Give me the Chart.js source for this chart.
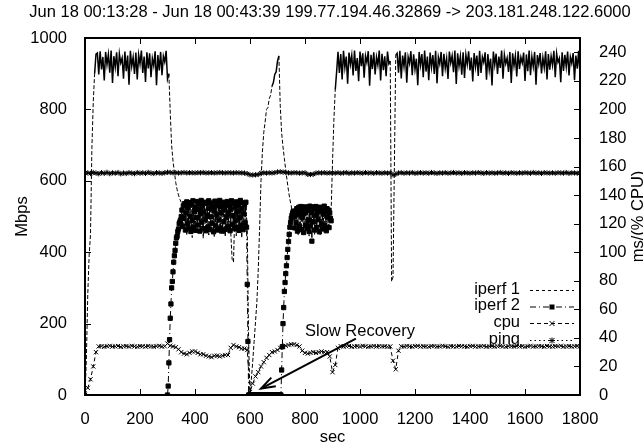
<!DOCTYPE html>
<html><head><meta charset="utf-8">
<script src="https://cdn.jsdelivr.net/npm/chart.js@4/dist/chart.umd.min.js"></script>
<style>html,body{margin:0;padding:0;background:#fff;overflow:hidden}canvas{display:block}</style>
</head><body>
<canvas id="c" width="643" height="448"></canvas>
<script>
// ---------- text ----------
const TITLE = 'Jun 18 00:13:28 - Jun 18 00:43:39 199.77.194.46.32869 -> 203.181.248.122.6000';
const X_LABEL = 'sec';
const Y_LABEL = 'Mbps';
const Y2_LABEL = 'ms/(% CPU)';
const SERIES_NAMES = ['iperf 1', 'iperf 2', 'cpu', 'ping'];
const ANNOTATION_TEXT = 'Slow Recovery';
const ANNOTATION_AT = [800, 165];      // sec, Mbps
const ARROW_FROM = [985, 158];         // sec, Mbps
const ARROW_TO = [640, 18];            // sec, Mbps

// ---------- ticks ----------
const X_TICKS = [0, 200, 400, 600, 800, 1000, 1200, 1400, 1600, 1800];
const Y_TICKS = [0, 200, 400, 600, 800, 1000];
const Y2_TICKS = [0, 20, 40, 60, 80, 100, 120, 140, 160, 180, 200, 220, 240];

// ---------- sampling ----------
const IPERF1_STEP = 5;     // seconds between iperf 1 samples
const IPERF1_START = 0;
const IPERF2_STEP = 2.5;   // seconds between iperf 2 samples
const IPERF2_START = 300;
const CPU_STEP = 10;
const PING_STEP = 10;

// ---------- iperf 1 (Mbps), t = 0..1800 every 5 s ----------
const iperf1 = [
  // 0-40
  0,100,280,390,450,690,820,900,955,
  // 45-305
  958,898,963,912,947,881,961,925,954,903,
  965,874,949,918,960,893,956,930,944,886,
  962,907,951,869,964,921,946,899,959,884,
  953,927,965,902,948,877,960,915,957,890,
  943,922,963,868,952,909,961,896,949,933,
  964,885,900,
  // 310-350
  790,700,655,625,595,575,560,548,540,
  // 355-585
  525,468,532,447,538,459,521,441,536,472,
  529,452,540,463,518,439,535,470,527,448,
  541,458,523,444,537,466,530,450,539,461,
  520,443,534,469,528,455,380,372,520,446,
  536,462,525,440,538,457,531,
  // 590-600
  470,150,0,
  // 605-705
  45,95,150,205,260,350,470,600,680,735,765,800,805,830,840,865,875,898,905,935,950,
  // 710-750
  810,735,695,662,630,600,572,548,530,
  // 755-890
  495,520,462,526,448,529,470,524,452,528,
  466,521,445,527,473,525,450,529,462,522,
  447,526,469,520,455,524,463,515,
  // 895-915
  514,650,770,855,905,
  // 920-1105
  961,902,955,884,964,917,948,872,959,926,
  952,895,965,908,944,879,962,921,957,889,
  950,931,963,866,953,913,960,898,946,924,
  965,881,956,910,949,893,962,928,
  // 1110-1130
  935,318,330,640,952,
  // 1135-1800
  957,903,964,887,951,920,960,875,947,929,
  963,896,954,912,942,868,961,924,955,890,
  965,906,948,882,959,918,952,899,964,873,
  946,927,961,893,956,915,943,885,962,930,
  950,904,965,871,957,921,949,897,960,888,
  953,926,963,909,945,878,958,919,951,894,
  964,902,947,932,960,883,955,911,942,867,
  962,925,956,899,948,916,965,886,953,928,
  944,905,961,874,957,922,950,892,963,913,
  946,930,959,880,954,907,965,896,948,920,
  961,869,952,927,958,901,945,917,963,884,
  955,911,949,924,964,890,957,932,943,876,
  960,908,953,919,962,895,
  947,929,958,882,951,914,964,898
];

// ---------- iperf 2 (Mbps), t = 300..895 every 2.5 s ----------
const iperf2 = [
  // 300-350
  0,25,90,155,215,255,300,318,345,372,390,405,425,440,445,458,465,480,485,490,500,
  // 352.5-587.5
  518,472,530,495,536,462,510,541,480,525,
  467,539,501,458,533,488,544,470,515,527,
  461,497,542,476,520,535,459,508,545,484,
  529,466,513,540,492,460,537,503,471,544,
  523,463,499,538,481,528,457,517,543,474,
  506,536,462,531,490,545,468,511,527,459,
  540,485,521,464,534,498,542,472,509,530,
  460,519,544,478,503,537,466,526,489,541,
  469,514,532,461,496,545,475,522,538,463,
  507,533,482,540,470,
  // 590-595
  310,150,0,
  // 597.5-712.5
  0,0,0,0,0,0,0,0,0,0,0,0,0,0,0,0,0,0,0,0,0,0,0,0,
  0,0,0,0,0,0,0,0,0,0,0,0,0,0,0,0,0,0,0,0,0,0,0,
  // 715-757.5
  70,135,200,245,290,315,340,362,385,408,430,450,470,483,495,503,510,515,
  // 760-895
  500,468,515,482,522,459,505,526,471,512,
  528,463,497,520,455,509,527,476,516,466,
  524,490,458,529,473,511,431,519,485,527,
  462,504,528,470,517,492,525,457,513,526,
  479,521,465,508,529,474,515,460,522,498,
  518,469,510,495,488
];

// ---------- cpu (%), t = 0..1800 every 10 s ----------
const cpu = [
  // 0-50
  0,5,11,20,30,34,
  // 60-290
  34.2,33.8,34.1,34.4,33.9,34,34.3,33.7,34.1,34.2,33.9,34.4,34,33.8,34.2,34.1,33.9,34.3,34,33.8,34.2,34.4,33.9,34.1,
  // 300-590
  36,34.5,34,33.5,32,30,29,28.5,29.5,30.5,30.5,29.5,28.5,28.5,27.5,27,26.5,27.5,27.5,27,27.5,28,28,33,35,34,33.5,32.5,32.5,31.5,
  // 600-720
  2,8,13,16,20,23,26,28,30,30.5,31.5,33,34,
  // 730-910
  34.5,35,35.5,35.5,35,34,31,29.5,29,29.5,30,29.5,30,30.5,30,30,27,16,21,
  // 920-1110
  33,34.2,33.9,34.1,34.3,33.8,34,34.2,33.9,34.4,34.1,33.8,34,34.3,33.9,34.2,34,34.1,33.8,34,
  // 1120-1140
  24,18,31,
  // 1150-1800
  34.1,33.9,34.3,34,33.8,34.2,34.4,33.9,34.1,34,
  33.8,34.3,34.2,33.9,34,34.4,34.1,33.8,34.2,34,
  33.9,34.3,34.1,34,33.8,34.2,34.4,33.9,34,34.1,
  34.3,33.8,34,34.2,33.9,34.1,34.4,34,33.8,34.2,
  34.1,33.9,34.3,34,34.2,33.8,34.1,34.4,33.9,34,
  34.2,34.1,33.8,34.3,34,33.9,34.2,34.1,34.4,33.8,
  34,34.2,33.9,34.1,34.3,34
];

// ---------- ping (ms), t = 0..1800 every 10 s ----------
const ping = [
  // 0-290
  155.3,155.6,155.1,155.8,155.4,154.9,155.7,155.2,155.9,155.0,
  155.6,155.3,155.8,154.9,155.5,155.1,155.7,155.4,155.0,155.8,
  155.3,155.6,155.2,155.9,155.4,155.1,155.7,155.5,155.2,155.6,
  // 300-590
  156,155.8,155.6,155.7,155.5,155.6,155.8,155.5,155.7,155.6,
  155.5,155.7,155.6,155.8,155.5,155.6,155.7,155.5,155.6,155.8,
  155.6,155.5,155.7,155.6,155.5,155.7,155.6,155.5,155.4,155.0,
  // 600-700
  154.2,154.1,154.2,154.4,155.5,155.6,155.4,155.6,155.5,155.7,156.2,
  // 710-890
  156.3,156.1,155.8,155.6,155.5,155.7,155.6,155.4,155.5,155.6,154.5,154.4,154.6,155.4,155.6,155.5,155.7,155.4,155.6,
  // 900-1800
  155.6,155.4,155.7,155.3,155.5,155.8,155.2,155.6,155.4,155.7,
  155.5,155.3,155.8,155.4,155.6,155.2,155.7,155.5,155.3,155.6,
  155.4,155.5,154.2,154.6,155.5,155.7,155.3,155.6,155.4,155.8,
  155.2,155.5,155.7,155.4,155.6,155.3,155.8,155.5,155.2,155.6,
  155.4,155.7,155.3,155.5,155.8,155.4,155.6,155.2,155.7,155.5,
  155.3,155.6,155.4,155.8,155.5,155.2,155.7,155.4,155.6,155.3,
  155.5,155.8,155.4,155.6,155.2,155.7,155.5,155.3,155.6,155.4,
  155.7,155.5,155.3,155.8,155.4,155.6,155.2,155.7,155.5,155.4,
  155.6,155.3,155.7,155.5,155.4,155.8,155.2,155.6,155.5,155.3,
  155.6
];

// ---------- styles ----------
const FONT_FAMILY = '"Liberation Sans", Arial, Helvetica, sans-serif';
const FONT_SIZE = 16.5;
const INK = '#000';
const DASH = { iperf1: [4, 2], iperf2: [6, 3, 1, 3], cpu: [4, 3], ping: [1.5, 3] };
const LEGEND_DASH = { iperf1: [3, 3], iperf2: [6, 3, 1, 3], cpu: [4, 3], ping: [1.5, 3] };
const DENSE_ABOVE = 850;   // zig-zag segments drawn solid when both ends are above this (Mbps)
const isDense = c => c.p0.parsed.y > DENSE_ABOVE && c.p1.parsed.y > DENSE_ABOVE;

const toPts = (arr, start, step) => arr.map((v, i) => ({ x: start + i * step, y: v }));

const frameAndText = {
  id: 'frameAndText',
  afterDatasetsDraw(chart) {
    const ctx = chart.ctx, ca = chart.chartArea;
    const xs = chart.scales.x, ys = chart.scales.y, y2 = chart.scales.y2;
    ctx.save();
    ctx.strokeStyle = INK; ctx.fillStyle = INK;
    // annotation arrow
    const ax1 = xs.getPixelForValue(ARROW_FROM[0]), ay1 = ys.getPixelForValue(ARROW_FROM[1]);
    const ax2 = xs.getPixelForValue(ARROW_TO[0]), ay2 = ys.getPixelForValue(ARROW_TO[1]);
    ctx.lineWidth = 2; ctx.setLineDash([]);
    ctx.beginPath(); ctx.moveTo(ax1, ay1); ctx.lineTo(ax2, ay2); ctx.stroke();
    const ang = Math.atan2(ay1 - ay2, ax1 - ax2), hl = 15, ha = 0.33;
    ctx.beginPath();
    ctx.moveTo(ax2 + hl * Math.cos(ang + ha), ay2 + hl * Math.sin(ang + ha));
    ctx.lineTo(ax2, ay2);
    ctx.lineTo(ax2 + hl * Math.cos(ang - ha), ay2 + hl * Math.sin(ang - ha));
    ctx.stroke();
    ctx.font = FONT_SIZE + 'px ' + FONT_FAMILY;
    ctx.textAlign = 'left'; ctx.textBaseline = 'alphabetic';
    ctx.fillText(ANNOTATION_TEXT, xs.getPixelForValue(ANNOTATION_AT[0]), ys.getPixelForValue(ANNOTATION_AT[1]));

    // frame
    ctx.lineWidth = 2;
    ctx.strokeRect(ca.left, ca.top, ca.right - ca.left, ca.bottom - ca.top);
    // inward ticks
    ctx.lineWidth = 1;
    const TL = 6;
    ctx.beginPath();
    X_TICKS.forEach(v => { const p = Math.round(xs.getPixelForValue(v)) + 0.5;
      ctx.moveTo(p, ca.bottom); ctx.lineTo(p, ca.bottom - TL);
      ctx.moveTo(p, ca.top); ctx.lineTo(p, ca.top + TL); });
    Y_TICKS.forEach(v => { const p = Math.round(ys.getPixelForValue(v)) + 0.5;
      ctx.moveTo(ca.left, p); ctx.lineTo(ca.left + TL, p); });
    Y2_TICKS.forEach(v => { const p = Math.round(y2.getPixelForValue(v)) + 0.5;
      ctx.moveTo(ca.right, p); ctx.lineTo(ca.right - TL, p); });
    ctx.stroke();

    // titles
    ctx.textAlign = 'center'; ctx.textBaseline = 'middle';
    ctx.fillText(TITLE, 330, 12.5);
    ctx.fillText(X_LABEL, (ca.left + ca.right) / 2, 437);
    ctx.save(); ctx.translate(22, (ca.top + ca.bottom) / 2); ctx.rotate(-Math.PI / 2);
    ctx.fillText(Y_LABEL, 0, 0); ctx.restore();
    ctx.save(); ctx.translate(638, (ca.top + ca.bottom) / 2); ctx.rotate(-Math.PI / 2);
    ctx.fillText(Y2_LABEL, 0, 0); ctx.restore();

    // legend
    const rows = [290, 306.5, 323, 340];
    const dashes = [LEGEND_DASH.iperf1, LEGEND_DASH.iperf2, LEGEND_DASH.cpu, LEGEND_DASH.ping];
    const markers = [null, 'rect', 'cross', 'star'];
    const lx1 = 530, lx2 = 574, lm = 552, textRight = 520;
    SERIES_NAMES.forEach((name, i) => {
      const y = rows[i];
      ctx.textAlign = 'right'; ctx.textBaseline = 'middle';
      ctx.fillText(name, textRight, y - 1);
      ctx.setLineDash(dashes[i]); ctx.lineWidth = 1;
      ctx.beginPath(); ctx.moveTo(lx1, y + 0.5); ctx.lineTo(lx2, y + 0.5); ctx.stroke();
      ctx.setLineDash([]);
      const m = markers[i];
      if (m === 'rect') ctx.fillRect(lm - 2.5, y - 2, 5, 5);
      if (m === 'cross' || m === 'star') {
        ctx.beginPath();
        ctx.moveTo(lm - 2.5, y - 2); ctx.lineTo(lm + 2.5, y + 3);
        ctx.moveTo(lm + 2.5, y - 2); ctx.lineTo(lm - 2.5, y + 3);
        if (m === 'star') { ctx.moveTo(lm - 3, y + 0.5); ctx.lineTo(lm + 3, y + 0.5); ctx.moveTo(lm, y - 2.5); ctx.lineTo(lm, y + 3.5); }
        ctx.stroke();
      }
    });
    ctx.restore();
  }
};

const tickFont = { family: FONT_FAMILY, size: FONT_SIZE };
const fixTicks = arr => s => { s.ticks = arr.map(v => ({ value: v })); };

new Chart(document.getElementById('c'), {
  type: 'line',
  data: {
    datasets: [
      { label: SERIES_NAMES[0], data: toPts(iperf1, IPERF1_START, IPERF1_STEP), yAxisID: 'y',
        borderColor: INK, borderWidth: 1, borderDash: DASH.iperf1, pointRadius: 0, tension: 0,
        segment: {
          borderDash: c => isDense(c) ? [] : undefined,
          borderWidth: c => isDense(c) ? 1.5 : undefined
        } },
      { label: SERIES_NAMES[1], data: toPts(iperf2, IPERF2_START, IPERF2_STEP), yAxisID: 'y',
        borderColor: INK, borderWidth: 1, borderDash: DASH.iperf2, pointStyle: 'rect', pointRadius: 3,
        pointBackgroundColor: INK, pointBorderColor: INK, pointBorderWidth: 1, tension: 0 },
      { label: SERIES_NAMES[2], data: toPts(cpu, 0, CPU_STEP), yAxisID: 'y2',
        borderColor: INK, borderWidth: 1, borderDash: DASH.cpu, pointStyle: 'crossRot', pointRadius: 3,
        pointBorderColor: INK, pointBorderWidth: 1, tension: 0 },
      { label: SERIES_NAMES[3], data: toPts(ping, 0, PING_STEP), yAxisID: 'y2',
        borderColor: INK, borderWidth: 1, borderDash: DASH.ping, pointStyle: 'star', pointRadius: 2.6,
        pointBorderColor: INK, pointBorderWidth: 1, tension: 0 }
    ]
  },
  options: {
    responsive: false, animation: false, devicePixelRatio: 1,
    layout: { padding: { top: 38, left: 0, right: 0, bottom: 0 } },
    plugins: { legend: { display: false }, tooltip: { enabled: false }, title: { display: false } },
    elements: { line: { fill: false } },
    scales: {
      x: { type: 'linear', min: 0, max: 1800, position: 'bottom',
        grid: { display: false }, border: { display: false },
        afterBuildTicks: fixTicks(X_TICKS),
        afterFit: s => { s.height = 53; },
        ticks: { autoSkip: false, maxRotation: 0, minRotation: 0, padding: 7, color: INK, font: tickFont, callback: v => String(v) } },
      y: { type: 'linear', min: 0, max: 1000, position: 'left',
        grid: { display: false }, border: { display: false },
        afterBuildTicks: fixTicks(Y_TICKS),
        afterFit: s => { s.width = 85; },
        ticks: { padding: 10, color: INK, font: tickFont, callback: v => String(v) } },
      y2: { type: 'linear', min: 0, max: 250, position: 'right',
        grid: { display: false }, border: { display: false },
        afterBuildTicks: fixTicks(Y2_TICKS),
        afterFit: s => { s.width = 63; },
        ticks: { padding: 11, color: INK, font: tickFont, callback: v => String(v) } }
    }
  },
  plugins: [frameAndText]
});
</script>
</body></html>
